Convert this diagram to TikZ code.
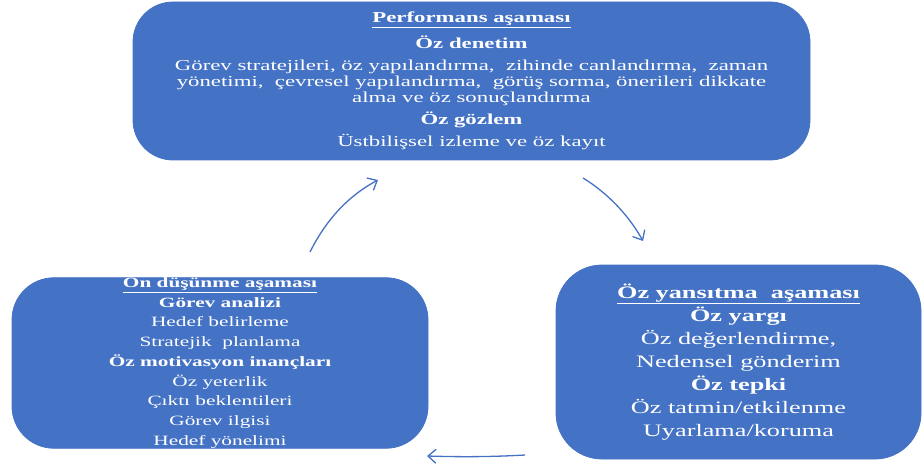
\documentclass[tikz,border=0pt]{standalone}
\usepackage{fontspec}
\setmainfont{Liberation Serif}[FakeStretch=1.5]
\usepackage{tikz}
\usetikzlibrary{positioning,calc,arrows.meta}
\definecolor{phaseblue}{HTML}{4472C4}
\tikzset{
  phase/.style={draw=phaseblue, line width=0.8pt, fill=phaseblue, text=white, align=center, inner sep=0pt},
  cycarrow/.style={draw=phaseblue, line width=1.3pt, -{Straight Barb[length=8pt,width=14pt,line width=1.3pt]}}
}

\begin{document}
\begin{tikzpicture}[x=1pt,y=-1pt]
    \useasboundingbox (0,0) rectangle (923,465);

    % Performans
    \node[phase, minimum width=677pt, minimum height=158pt, rounded corners=40pt,
          font=\fontsize{15.2}{16}\selectfont] (perf) at (471.5,81) {%
        \underline{\textbf{Performans aşaması}}\\[7pt]
        \textbf{Öz denetim}\\[6pt]
        Görev stratejileri, öz yapılandırma,\ \ zihinde canlandırma,\ \ zaman\\
        yönetimi,\ \ çevresel yapılandırma,\ \ görüş sorma, önerileri dikkate\\
        alma ve öz sonuçlandırma\\[6pt]
        \textbf{Öz gözlem}\\[6pt]
        Üstbilişsel izleme ve öz kayıt};

    % On dusunme
    \node[phase, minimum width=416pt, minimum height=170pt, rounded corners=42pt,
          font=\fontsize{14.2}{19.7}\selectfont] (plan) at (220,363) {%
        \underline{\textbf{On düşünme aşaması}}\\
        \textbf{Görev analizi}\\
        Hedef belirleme\\
        Stratejik\ \ planlama\\
        \textbf{Öz motivasyon inançları}\\
        Öz yeterlik\\
        Çıktı beklentileri\\
        Görev ilgisi\\
        Hedef yönelimi};

    % Oz yansitma
    \node[phase, minimum width=365pt, minimum height=194pt, rounded corners=46pt,
          font=\fontsize{17.5}{23}\selectfont] (refl) at (738.5,362) {%
        \underline{\textbf{Öz yansıtma\ \ aşaması}}\\
        \textbf{Öz yargı}\\
        Öz değerlendirme,\\
        Nedensel gönderim\\
        \textbf{Öz tepki}\\
        Öz tatmin/etkilenme\\
        Uyarlama/koruma};

    % arrows
    \coordinate (a1s) at (310,252);
    \coordinate (a1e) at (378,180);
    \coordinate (a2s) at (583,178);
    \coordinate (a2e) at (643,241);
    \coordinate (a3s) at (525,455);
    \coordinate (a3e) at (427,456);
    \draw[cycarrow] (a1s) .. controls (326,220) and (348,196) .. (a1e);
    \draw[cycarrow] (a2s) .. controls (606,192) and (628,214) .. (a2e);
    \draw[cycarrow] (a3s) .. controls (490,457) and (460,457) .. (a3e);
\end{tikzpicture}
\end{document}
